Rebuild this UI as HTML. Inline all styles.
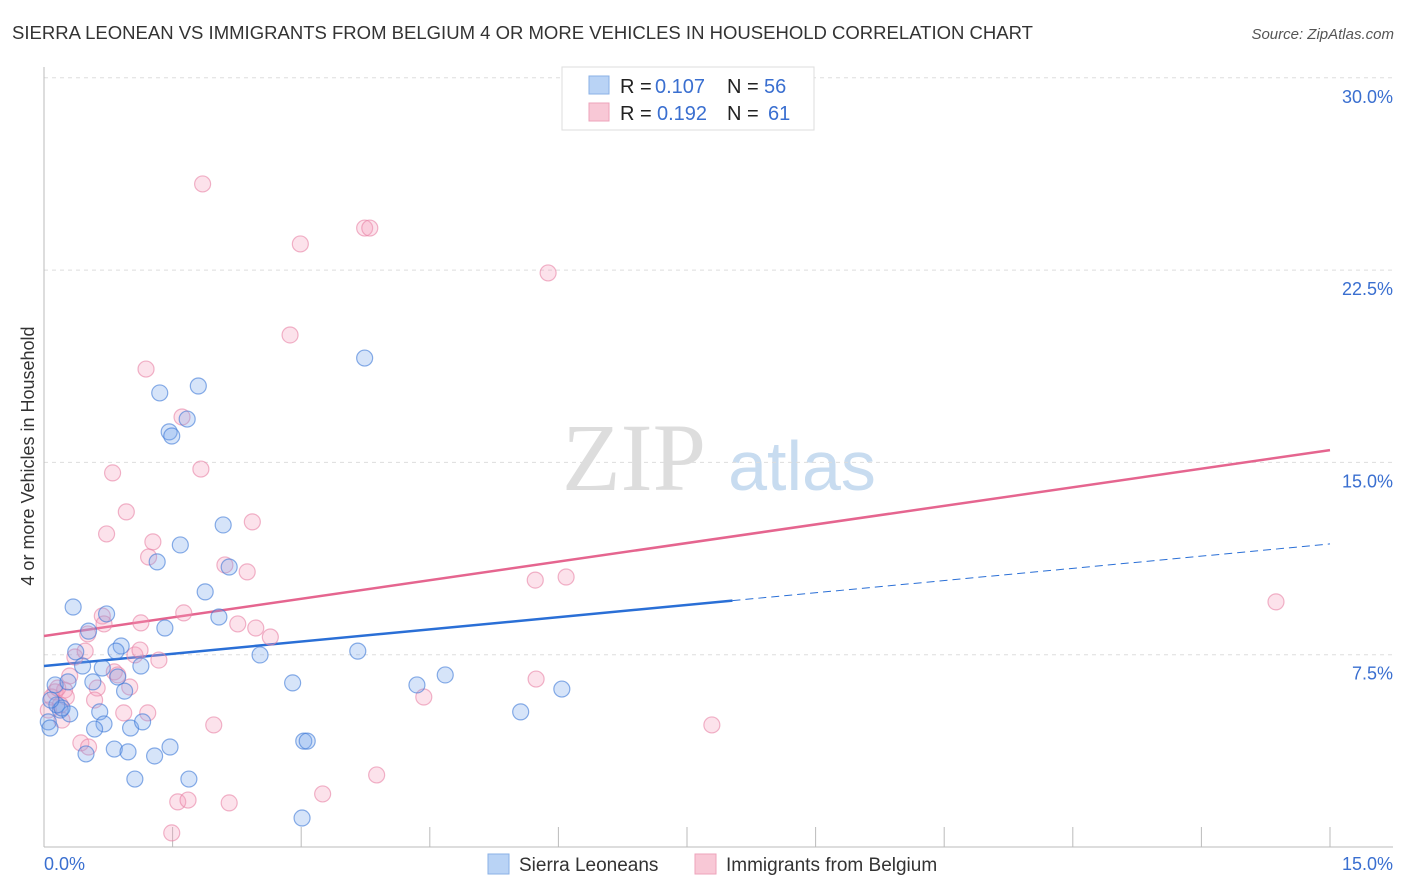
<!DOCTYPE html>
<html><head><meta charset="utf-8"><style>
body{margin:0;background:#fff;font-family:"Liberation Sans",sans-serif;}
#wrap{position:relative;width:1406px;height:892px;overflow:hidden;}
</style></head><body>
<div id="wrap">
<svg id="svg" width="1406" height="892" xmlns="http://www.w3.org/2000/svg">
<text x="12" y="39" font-size="18" fill="#333" textLength="1021" lengthAdjust="spacingAndGlyphs">SIERRA LEONEAN VS IMMIGRANTS FROM BELGIUM 4 OR MORE VEHICLES IN HOUSEHOLD CORRELATION CHART</text>
<text x="1394" y="39" font-size="15" fill="#555" font-style="italic" text-anchor="end">Source: ZipAtlas.com</text>
<text transform="translate(34,456) rotate(-90)" font-size="18" fill="#333" text-anchor="middle">4 or more Vehicles in Household</text>
<g>
<text x="634" y="490" font-size="96" font-family="Liberation Serif,serif" fill="#ddd" text-anchor="middle">ZIP</text>
<text x="802" y="490" font-size="70" fill="#c8dcf0" text-anchor="middle">atlas</text>
</g>
<g id="grid"></g><g id="axes"></g><g id="lines"></g><g id="pts"></g>
<g>
<rect x="562" y="67" width="252" height="63" fill="#fff" stroke="#ddd"/>
<rect x="589" y="76" width="20" height="18" fill="#b9d3f5" stroke="#8ab0e6"/>
<rect x="589" y="103" width="20" height="18" fill="#f8c8d6" stroke="#eea3bb"/>
<text y="93" font-size="20" fill="#222"><tspan x="620">R =</tspan><tspan x="655" fill="#3a6fd0">0.107</tspan><tspan x="727">N =</tspan><tspan x="764" fill="#3a6fd0">56</tspan></text>
<text y="120" font-size="20" fill="#222"><tspan x="620">R =</tspan><tspan x="657" fill="#3a6fd0">0.192</tspan><tspan x="727">N =</tspan><tspan x="768" fill="#3a6fd0">61</tspan></text>
</g>
<g>
<rect x="488" y="854" width="21" height="20" fill="#b9d3f5" stroke="#8ab0e6"/>
<text x="519" y="871" font-size="19" fill="#333">Sierra Leoneans</text>
<rect x="695" y="854" width="21" height="20" fill="#f8c8d6" stroke="#eea3bb"/>
<text x="726" y="871" font-size="19" fill="#333">Immigrants from Belgium</text>
</g>
</svg>
</div>
<script>
const yTicks=[7.5,15,22.5,30];
const yTickLabels=["7.5%","15.0%","22.5%","30.0%"];
const xTickLabels=["0.0%","15.0%"];
const blueX=[0.34,0.73,0.52,0.90,0.84,0.37,0.45,0.68,1.13,0.57,0.86,0.94,0.13,0.28,0.19,0.30,0.65,0.70,0.59,1.01,1.15,0.05,0.07,0.82,0.98,0.49,1.29,1.47,1.06,1.69,3.01,3.03,3.07,1.35,1.80,1.46,1.49,1.67,1.59,1.32,2.09,2.16,1.88,2.04,1.41,2.52,2.90,3.66,3.74,4.35,4.68,5.56,6.04,0.15,0.21,0.08];
const blueY=[9.36,9.09,8.42,7.84,7.64,7.61,7.06,6.98,7.06,6.44,6.63,6.08,6.32,6.44,5.34,5.19,5.27,4.80,4.60,4.64,4.88,4.88,4.64,3.82,3.71,3.63,3.55,3.90,2.65,2.65,1.13,4.13,4.13,17.71,17.98,16.19,16.03,16.69,11.78,11.12,12.56,10.92,9.95,8.97,8.54,7.49,6.40,7.64,19.07,6.32,6.71,5.27,6.16,5.54,5.42,5.73];
const pinkX=[1.85,2.99,3.74,3.80,5.88,2.87,1.19,1.61,1.83,0.80,0.96,0.73,2.43,1.27,1.22,2.11,2.37,5.73,6.09,14.37,1.63,0.68,1.13,0.70,2.26,2.47,2.64,0.51,0.36,0.48,1.06,1.34,0.82,0.86,0.30,0.62,0.24,0.13,0.09,0.59,0.26,0.93,1.21,5.74,4.43,1.98,7.79,0.43,0.52,3.88,3.25,1.56,1.68,2.16,1.49,0.19,0.16,0.05,0.21,1.00,1.12];
const pinkY=[25.86,23.52,24.14,24.14,22.39,19.97,18.64,16.77,14.74,14.59,13.07,12.21,12.68,11.90,11.31,11.00,10.73,10.41,10.53,9.56,9.13,9.01,8.74,8.70,8.70,8.54,8.19,8.31,7.41,7.64,7.49,7.29,6.83,6.71,6.67,6.20,6.12,6.05,5.85,5.73,5.85,5.23,5.23,6.55,5.85,4.76,4.76,4.06,3.90,2.81,2.07,1.76,1.83,1.72,0.55,5.54,6.20,5.34,4.95,6.24,7.68];
const blueTrend=[7.06,11.82];
const pinkTrend=[8.23,15.48];
const blueSolidEnd=8.03;

const X0=44,X1=1330,Y0=847,YPER=25.64;
const sx=v=>X0+(X1-X0)*v/15;
const sy=v=>Y0-v*YPER;
const NS="http://www.w3.org/2000/svg";
function mk(tag,parent,attrs){const e=document.createElementNS(NS,tag);for(const k in attrs)e.setAttribute(k,attrs[k]);parent.appendChild(e);return e;}
const grid=document.getElementById('grid'),axes=document.getElementById('axes'),lines=document.getElementById('lines'),pts=document.getElementById('pts');
yTicks.forEach((t,i)=>{
  const l=mk('line',grid,{x1:X0,x2:1393,y1:sy(t),y2:sy(t),stroke:'#ddd','stroke-dasharray':'4,4'});
  
  
  const tx=mk('text',axes,{x:1393,y:sy(t)+25,'font-size':18,fill:'#3a6fd0','text-anchor':'end'});
  tx.textContent=yTickLabels[i];
  
  
});
const ax=mk('line',axes,{x1:X0,x2:1393,y1:Y0,y2:Y0,stroke:'#bbb'});


const ay=mk('line',axes,{x1:X0,x2:X0,y1:67,y2:Y0,stroke:'#bbb'});


for(let i=0;i<=10;i++){
  const t=mk('line',axes,{x1:sx(i*1.5),x2:sx(i*1.5),y1:Y0,y2:Y0-20,stroke:'#bbb'});
  
  
}
[[0,'start',44],[1,'end',1393]].forEach(([i,a,x])=>{
  const tx=mk('text',axes,{x:x,y:870,'font-size':18,fill:'#3a6fd0','text-anchor':a});
  tx.textContent=xTickLabels[i];
  
  
});
function drawPts(xs,ys,fill,stroke,name){
  xs.forEach((x,i)=>{
    const c=mk('circle',pts,{cx:sx(x),cy:sy(ys[i]),r:8,fill:fill,stroke:stroke,'stroke-width':1.2});
    
    
  });
}
drawPts(pinkX,pinkY,'rgba(244,160,188,0.3)','rgba(232,130,165,0.6)','pink-point');
drawPts(blueX,blueY,'rgba(120,165,235,0.3)','rgba(60,120,215,0.6)','blue-point');
const bAt=x=>blueTrend[0]+(blueTrend[1]-blueTrend[0])*x/15;
const bl=mk('line',lines,{x1:sx(0),y1:sy(blueTrend[0]),x2:sx(blueSolidEnd),y2:sy(bAt(blueSolidEnd)),stroke:'#2a6fd6','stroke-width':2.5});


const bd=mk('line',lines,{x1:sx(blueSolidEnd),y1:sy(bAt(blueSolidEnd)),x2:sx(15),y2:sy(blueTrend[1]),stroke:'#2a6fd6','stroke-width':1,'stroke-dasharray':'8,5'});


const pl=mk('line',lines,{x1:sx(0),y1:sy(pinkTrend[0]),x2:sx(15),y2:sy(pinkTrend[1]),stroke:'#e5658f','stroke-width':2.5});


</script>
</body></html>
